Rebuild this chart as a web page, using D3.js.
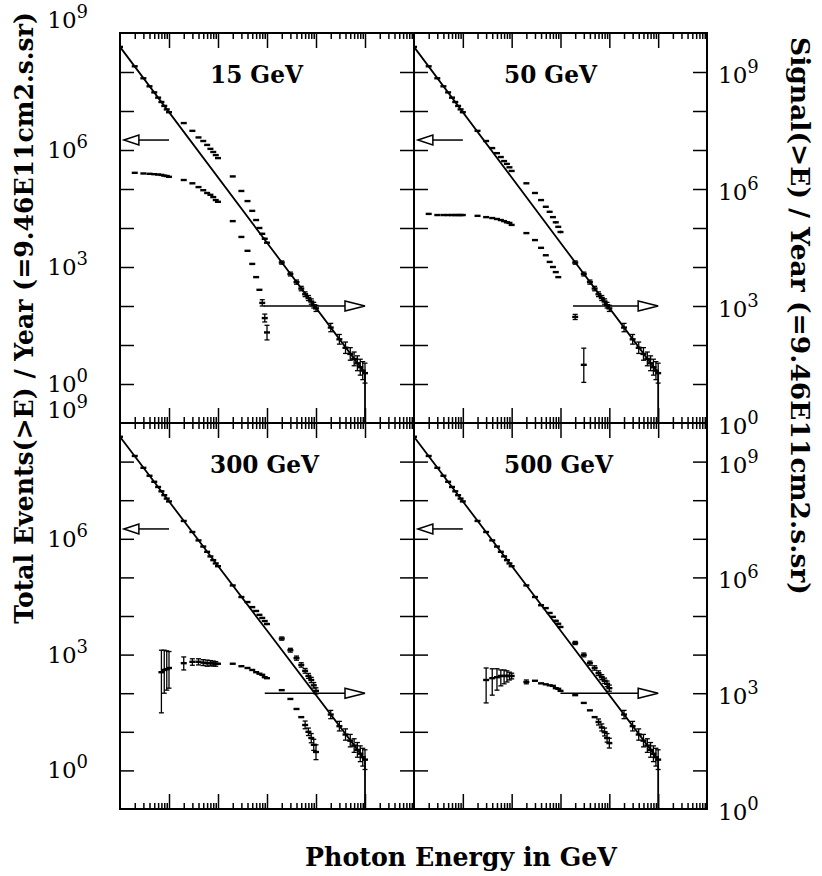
<!DOCTYPE html>
<html>
<head>
<meta charset="utf-8">
<script src="https://cdn.jsdelivr.net/npm/d3@7"></script>
<style>
  body { margin: 0; background: #fff; }
  svg { display: block; }
</style>
</head>
<body>
<svg width="822" height="876"></svg>
<script>
// ---- data ----
const panelLabels = ['15 GeV', '50 GeV', '300 GeV', '500 GeV'];

const energyDomain = [0.01, 1e4];   // GeV
const leftDomain = [0.1, 1e9];      // total events(>E) / year
const rightDomain = [1, 1e10];      // signal(>E) / year

const leftTickLabels = [9, 6, 3, 0];
const rightTickLabels = [9, 6, 3, 0];

// background model line (same in all panels)
const modelE = [0.01, 10, 1000, 1000];
const modelN = [4.4e8, 4.2e3, 1.9, 0.1];

// background points lying on the line, with error factor
const bgEnergy = [
  0.01, 0.02, 0.03, 0.04, 0.05, 0.06, 0.07, 0.08, 0.09,
  0.1, 0.2, 0.3, 0.4, 0.5, 0.6, 0.7, 0.8, 0.9,
  1, 2, 3, 4, 5, 6, 7, 8, 9,
  10, 20, 30, 40, 50, 60, 70, 80, 90,
  100, 200, 300, 400, 500, 600, 700, 800, 900,
  1000
];
const bgEvents = [
  4.4e8, 1.4e8, 6.9e7, 4.3e7, 3.0e7, 2.2e7, 1.7e7, 1.35e7, 1.1e7,
  9.3e6, 2.9e6, 1.5e6, 9.1e5, 6.3e5, 4.6e5, 3.5e5, 2.8e5, 2.3e5,
  1.95e5, 6.2e4, 3.1e4, 1.9e4, 1.3e4, 9.8e3, 7.6e3, 6.0e3, 5.0e3,
  4.2e3, 1.3e3, 660, 410, 280, 200, 160, 130, 105,
  87, 28, 14, 8.5, 5.9, 4.4, 3.4, 2.7, 2.2,
  1.9
];
const bgErr = [
  1, 1, 1, 1, 1, 1, 1, 1, 1,
  1, 1, 1, 1, 1, 1, 1, 1, 1,
  1.03, 1.04, 1.04, 1.05, 1.05, 1.06, 1.06, 1.07, 1.07,
  1.08, 1.1, 1.12, 1.13, 1.14, 1.15, 1.16, 1.17, 1.18,
  1.2, 1.28, 1.33, 1.4, 1.45, 1.5, 1.55, 1.6, 1.7,
  1.8
];

// total events where they leave the line [E, N]
const total15 = [
  [0.2, 4.9e6], [0.3, 3.1e6], [0.4, 2.1e6], [0.5, 1.7e6], [0.6, 1.35e6], [0.7, 1.07e6],
  [0.8, 8.9e5], [0.9, 7.4e5], [1, 6.2e5], [2, 2.1e5], [3, 8.9e4], [4, 4.9e4],
  [5, 2.75e4], [6, 1.6e4], [7, 1.0e4], [8, 7.1e3], [9, 5.3e3]
];
const total50 = [
  [0.2, 3.1e6], [0.3, 1.7e6], [0.4, 1.12e6], [0.5, 8.3e5], [0.6, 6.6e5], [0.7, 5.2e5],
  [0.8, 4.4e5], [0.9, 3.6e5], [1, 2.9e5], [2, 1.4e5], [3, 7.9e4], [4, 5.2e4],
  [5, 3.5e4], [6, 2.6e4], [7, 1.9e4], [8, 1.4e4], [9, 1.07e4], [10, 7.9e3]
];
const total300 = [
  [4, 2.3e4], [5, 1.7e4], [6, 1.35e4], [7, 1.07e4], [8, 8.9e3], [9, 7.4e3], [10, 6.2e3],
  [20, 2.6e3], [30, 1.3e3], [40, 810], [50, 540], [60, 380], [70, 280], [80, 220],
  [90, 160], [100, 115]
];
const total500 = [
  [5, 1.6e4], [6, 1.2e4], [7, 9.5e3], [8, 7.5e3], [9, 6.3e3], [10, 5.2e3],
  [20, 2.0e3], [30, 980], [40, 600], [50, 450], [60, 330], [70, 260], [80, 210],
  [90, 175], [100, 135]
];

// signal points [E, N, low, high] (right axis)
const signal15 = [
  [0.02, 2.6e6], [0.03, 2.5e6], [0.04, 2.45e6], [0.05, 2.4e6], [0.06, 2.35e6],
  [0.07, 2.3e6], [0.08, 2.2e6], [0.09, 2.15e6],
  [0.1, 2.05e6], [0.2, 1.7e6], [0.3, 1.4e6], [0.4, 1.12e6], [0.5, 9.3e5],
  [0.6, 7.9e5], [0.7, 7.1e5], [0.8, 6.2e5], [0.9, 5.2e5],
  [1, 4.7e5], [2, 1.5e5], [3, 5.9e4], [4, 2.6e4], [5, 1.2e4], [6, 5.5e3],
  [7, 2.6e3], [8, 1.2e3, 1.0e3, 1.45e3], [9, 490, 390, 620], [10, 210, 135, 320]
];
const signal50 = [
  [0.02, 2.3e5], [0.03, 2.15e5], [0.04, 2.15e5], [0.05, 2.15e5], [0.06, 2.15e5],
  [0.07, 2.15e5], [0.08, 2.15e5], [0.09, 2.15e5],
  [0.1, 2.15e5], [0.2, 2.05e5], [0.3, 1.9e5], [0.4, 1.8e5], [0.5, 1.7e5],
  [0.6, 1.6e5], [0.7, 1.5e5], [0.8, 1.4e5], [0.9, 1.35e5],
  [1, 1.2e5], [2, 7.4e4], [3, 4.9e4], [4, 3.1e4], [5, 2.0e4], [6, 1.35e4],
  [7, 1.0e4], [8, 7.4e3], [9, 5.5e3],
  [20, 525, 450, 610], [30, 31, 11, 83]
];
const signal300 = [
  [0.07, 3.5e3, 310, 1.3e4], [0.08, 4.0e3, 1.0e3, 1.3e4], [0.09, 4.2e3, 1.2e3, 1.25e4],
  [0.1, 4.5e3, 1.35e3, 1.2e4],
  [0.2, 6.0e3, 4.0e3, 8.7e3], [0.3, 6.5e3, 5.3e3, 7.8e3], [0.4, 6.5e3, 5.4e3, 7.8e3],
  [0.5, 6.2e3, 5.2e3, 7.4e3], [0.6, 6.0e3, 5.0e3, 7.2e3], [0.7, 6.0e3, 5.1e3, 7.0e3],
  [0.8, 5.9e3, 5.1e3, 6.8e3], [0.9, 5.8e3, 5.0e3, 6.6e3],
  [1, 5.8e3], [2, 5.8e3], [3, 5.0e3], [4, 4.5e3], [5, 4.0e3], [6, 3.5e3],
  [7, 3.2e3], [8, 3.0e3], [9, 2.6e3], [10, 2.45e3],
  [20, 1.2e3], [30, 710], [40, 390], [50, 240], [60, 150, 120, 190],
  [70, 100, 80, 125], [80, 69, 52, 90], [90, 46, 33, 64], [100, 30, 19, 46]
];
const signal500 = [
  [0.3, 2.2e3, 560, 4.5e3], [0.4, 2.45e3, 890, 4.3e3], [0.5, 2.6e3, 1.2e3, 4.3e3],
  [0.6, 2.8e3, 1.55e3, 4.0e3], [0.7, 2.8e3, 1.75e3, 4.0e3], [0.8, 2.8e3, 1.95e3, 3.8e3],
  [0.9, 2.8e3, 2.2e3, 3.5e3], [1, 2.8e3, 2.35e3, 3.3e3],
  [2, 1.95e3, 1.75e3, 2.2e3], [3, 2.1e3], [4, 1.8e3], [5, 1.7e3], [6, 1.6e3],
  [7, 1.55e3], [8, 1.35e3], [9, 1.3e3], [10, 1.15e3],
  [20, 890], [30, 560], [40, 360], [50, 240], [60, 180, 150, 215],
  [70, 130, 105, 160], [80, 98, 78, 125], [90, 69, 54, 90], [100, 51, 38, 68]
];

const totals = [total15, total50, total300, total500];
const signals = [signal15, signal50, signal300, signal500];

// arrows: left one marks total events (left axis), right one the signal (right axis)
const leftArrowE = [0.1, 0.012];
const leftArrowLevel = 1.8e6;
const rightArrowStart = [8.5, 18, 9, 10];
const rightArrowEnd = 1000;
const rightArrowLevel = 1e3;

// ---- layout ----
const svg = d3.select('svg');
const colX = [[120, 414], [414, 707]];
const rowY = [[33, 423], [423, 809]];
const numFont = '"DejaVu Serif", serif';
const textFont = '"DejaVu Serif", serif';

function isDecade(v) {
  const l = Math.log10(v);
  return Math.abs(l - Math.round(l)) < 1e-6;
}

// scale a text's font size so it spans the wanted width
function fitWidth(sel, width) {
  const size = +sel.attr('font-size');
  const w = sel.node().getComputedTextLength();
  sel.attr('font-size', size * width / w);
  return size * width / w;
}

// horizontal dash marker with optional error bar
function drawPoints(g, pts, x, y) {
  const p = g.append('g').selectAll('g').data(pts).join('g');
  p.filter(d => d[2] != null)
    .append('line')
    .attr('x1', d => x(d[0])).attr('x2', d => x(d[0]))
    .attr('y1', d => y(d[2])).attr('y2', d => y(d[3]))
    .attr('stroke', '#000').attr('stroke-width', 1.3);
  [2, 3].forEach(k => {
    p.filter(d => d[2] != null && Math.abs(y(d[2]) - y(d[3])) > 3)
      .append('line')
      .attr('x1', d => x(d[0]) - 2.5).attr('x2', d => x(d[0]) + 2.5)
      .attr('y1', d => y(d[k])).attr('y2', d => y(d[k]))
      .attr('stroke', '#000').attr('stroke-width', 1.3);
  });
  p.append('line')
    .attr('x1', d => x(d[0]) - 3).attr('x2', d => x(d[0]) + 3)
    .attr('y1', d => y(d[1])).attr('y2', d => y(d[1]))
    .attr('stroke', '#000').attr('stroke-width', 2.4);
}

let labelSize = null;

panelLabels.forEach((label, i) => {
  const [x0, x1] = colX[i % 2];
  const [y0, y1] = rowY[Math.floor(i / 2)];
  const x = d3.scaleLog().domain(energyDomain).range([x0, x1]);
  const yL = d3.scaleLog().domain(leftDomain).range([y1, y0]);
  const yR = d3.scaleLog().domain(rightDomain).range([y1, y0]);

  const g = svg.append('g');
  const clipId = 'clip' + i;
  g.append('clipPath').attr('id', clipId)
    .append('rect').attr('x', x0).attr('y', y0).attr('width', x1 - x0).attr('height', y1 - y0);

  // ticks
  const allE = x.ticks();
  const majorE = allE.filter(v => isDecade(v) && v > energyDomain[0] && v < energyDomain[1]);
  const minorE = allE.filter(v => !isDecade(v));
  const yTicks = d3.range(0, 9).map(p => Math.pow(10, p));
  const styleAxis = a => {
    a.select('.domain').remove();
    a.selectAll('.tick line').attr('stroke-width', 1.5);
  };
  [[minorE, 6], [majorE, 15]].forEach(([vals, size]) => {
    g.append('g').attr('transform', `translate(0,${y0})`)
      .call(d3.axisBottom(x).tickValues(vals).tickSize(size).tickFormat(''))
      .call(styleAxis);
    g.append('g').attr('transform', `translate(0,${y1})`)
      .call(d3.axisTop(x).tickValues(vals).tickSize(size).tickFormat(''))
      .call(styleAxis);
  });
  g.append('g').attr('transform', `translate(${x0},0)`)
    .call(d3.axisRight(yL).tickValues(yTicks).tickSize(14).tickFormat(''))
    .call(styleAxis);
  g.append('g').attr('transform', `translate(${x1},0)`)
    .call(d3.axisLeft(yL).tickValues(yTicks).tickSize(14).tickFormat(''))
    .call(styleAxis);

  g.append('rect')
    .attr('x', x0).attr('y', y0).attr('width', x1 - x0).attr('height', y1 - y0)
    .attr('fill', 'none').attr('stroke', '#000').attr('stroke-width', 2);

  const plot = g.append('g').attr('clip-path', `url(#${clipId})`);

  // model line
  const line = d3.line().x(d => x(d[0])).y(d => yL(d[1]));
  plot.append('path')
    .datum(modelE.map((e, k) => [e, modelN[k]]))
    .attr('d', line)
    .attr('fill', 'none').attr('stroke', '#000').attr('stroke-width', 1.8);

  // total events: background points, replaced where the panel leaves the line
  const totalMap = new Map(totals[i].map(d => [d[0], d[1]]));
  const totalPts = bgEnergy.map((e, k) => {
    const n = totalMap.has(e) ? totalMap.get(e) : bgEvents[k];
    const f = bgErr[k];
    return f > 1 ? [e, n, n / f, n * f] : [e, n];
  });
  drawPoints(plot, totalPts, x, yL);

  // signal points
  drawPoints(plot, signals[i], x, yR);

  // left arrow (total events -> left axis)
  const ly = yL(leftArrowLevel);
  const lt = x(leftArrowE[1]);
  plot.append('line')
    .attr('x1', x(leftArrowE[0])).attr('x2', lt + 15)
    .attr('y1', ly).attr('y2', ly)
    .attr('stroke', '#000').attr('stroke-width', 1.5);
  plot.append('path')
    .attr('d', `M${lt},${ly}L${lt + 15},${ly - 5}L${lt + 15},${ly + 5}Z`)
    .attr('fill', '#fff').attr('stroke', '#000').attr('stroke-width', 1.5);

  // right arrow (signal -> right axis)
  const ry = yR(rightArrowLevel);
  const rt = x(rightArrowEnd);
  plot.append('line')
    .attr('x1', x(rightArrowStart[i])).attr('x2', rt - 20)
    .attr('y1', ry).attr('y2', ry)
    .attr('stroke', '#000').attr('stroke-width', 1.5);
  plot.append('path')
    .attr('d', `M${rt},${ry}L${rt - 20},${ry - 5}L${rt - 20},${ry + 5}Z`)
    .attr('fill', '#fff').attr('stroke', '#000').attr('stroke-width', 1.5);

  // panel label, sized once from the first label
  const t = g.append('text')
    .attr('x', x0 + 90).attr('y', y0 + 50)
    .attr('font-family', textFont).attr('font-weight', 'bold').attr('font-size', 24)
    .text(label);
  if (labelSize === null) labelSize = fitWidth(t, 93);
  else t.attr('font-size', labelSize);

  // tick labels
  if (i % 2 === 0) {
    leftTickLabels.forEach(p => {
      const t = svg.append('text')
        .attr('x', 88)
        .attr('y', yL(Math.pow(10, p)) + (p === 9 ? -5 : 8))
        .attr('text-anchor', 'end')
        .attr('font-family', numFont).attr('font-size', 23);
      t.append('tspan').text('10');
      t.append('tspan').attr('dy', -10).attr('font-size', 18).text(p);
    });
  } else {
    rightTickLabels.forEach(p => {
      const t = svg.append('text')
        .attr('x', 718)
        .attr('y', yR(Math.pow(10, p)) + 11)
        .attr('font-family', numFont).attr('font-size', 23);
      t.append('tspan').text('10');
      t.append('tspan').attr('dy', -10).attr('font-size', 18).text(p);
    });
  }
});

// axis titles
const leftTitle = svg.append('text')
  .attr('transform', 'translate(33,318) rotate(-90)')
  .attr('text-anchor', 'middle')
  .attr('font-family', textFont).attr('font-weight', 'bold').attr('font-size', 22)
  .text('Total Events(>E) / Year (=9.46E11cm2.s.sr)');
fitWidth(leftTitle, 612);

const rightTitle = svg.append('text')
  .attr('transform', 'translate(791,316) rotate(90)')
  .attr('text-anchor', 'middle')
  .attr('font-family', textFont).attr('font-weight', 'bold').attr('font-size', 22)
  .text('Signal(>E) / Year (=9.46E11cm2.s.sr)');
fitWidth(rightTitle, 558);

const xTitle = svg.append('text')
  .attr('x', 461).attr('y', 866)
  .attr('text-anchor', 'middle')
  .attr('font-family', textFont).attr('font-weight', 'bold').attr('font-size', 24)
  .text('Photon Energy in GeV');
fitWidth(xTitle, 312);
</script>
</body>
</html>
